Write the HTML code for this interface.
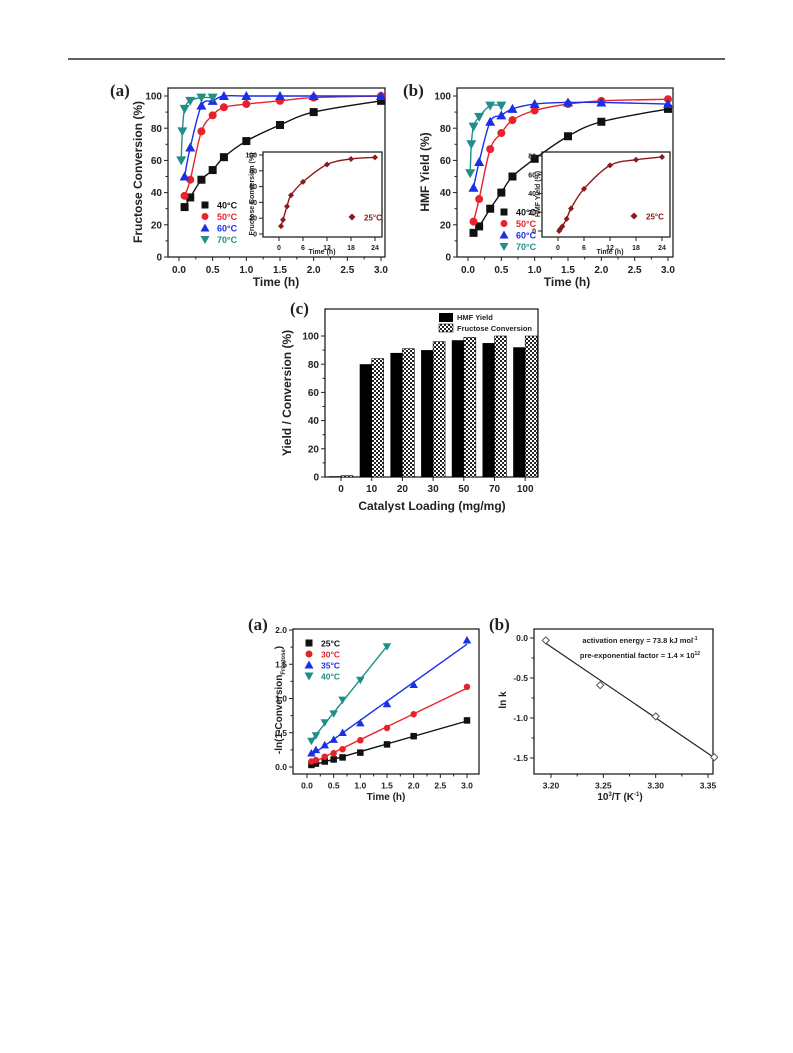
<!DOCTYPE html>
<html><head><meta charset="utf-8"><style>
html,body{margin:0;padding:0;background:#fff}
svg{display:block;font-family:"Liberation Sans",Arial,sans-serif}
</style></head><body>
<svg id="fig" width="793" height="1053" viewBox="0 0 793 1053" xmlns="http://www.w3.org/2000/svg">
<defs>
<pattern id="hatch" width="4" height="4" patternUnits="userSpaceOnUse">
<rect width="4" height="4" fill="#fff"/>
<rect width="2" height="2" fill="#222"/><rect x="2" y="2" width="2" height="2" fill="#222"/>
</pattern>
</defs>
<line x1="68" y1="59" x2="725" y2="59" stroke="#000" stroke-width="1.3"/>
</svg>
<script>
// ---------- data ----------
const tMain=[0.083,0.167,0.333,0.5,0.667,1,1.5,2,3];
const t70=[0.033,0.05,0.083,0.167,0.333,0.5];
const convA40=[31,37,48,54,62,72,82,90,97];
const convA50=[38,48,78,88,93,95,97,99,100];
const convA60=[50,68,94,97,100,100,100,100,100];
const convA70=[60,78,92,97,99,99];
const yieldB40=[15,19,30,40,50,61,75,84,92];
const yieldB50=[22,36,67,77,85,91,95,97,98];
const yieldB60=[43,59,84,88,92,95,96,96,95];
const yieldB70=[52,70,81,87,94,94];
const tInset=[0.5,1,2,3,6,12,18,24];
const insetConv=[10,18,35,49,66,88,95,97];
const insetYield=[2,5,13,24,45,70,76,79];
const loadCats=["0","10","20","30","50","70","100"];
const hmfYield=[0.5,80,88,90,97,95,92];
const fruConv=[1,84,91,96,99,100,100];
const kin25=[0.03,0.05,0.08,0.11,0.14,0.21,0.33,0.45,0.68];
const kin30=[0.08,0.1,0.15,0.2,0.26,0.39,0.57,0.77,1.17];
const kin35=[0.2,0.25,0.32,0.4,0.5,0.64,0.92,1.2,1.85];
const tKin40=[0.083,0.167,0.333,0.5,0.667,1,1.5];
const kin40=[0.38,0.46,0.65,0.78,0.98,1.27,1.76];
const invT=[3.195,3.247,3.30,3.356];
const lnk=[-0.03,-0.59,-0.98,-1.49];

const C={k:'#111',r:'#e8222a',b:'#1a2fe6',g:'#1f8f88',d:'#8b1a1a'};
const svg=document.getElementById('fig');
const NS='http://www.w3.org/2000/svg';
function el(tag,attrs,parent){const e=document.createElementNS(NS,tag);for(const k in attrs)e.setAttribute(k,attrs[k]);(parent||svg).appendChild(e);return e;}
function txt(s,x,y,size,anchor,parent,extra){const e=el('text',Object.assign({x:x,y:y,'font-size':size,'font-weight':'bold','text-anchor':anchor||'middle',fill:'#222'},extra||{}),parent);e.textContent=s;return e;}
function lin(d0,p0,d1,p1){return v=>p0+(v-d0)*(p1-p0)/(d1-d0);}

function axes(name,f,sx,sy,xt,yt,xl,yl,fs,xminor,yminor){
  const g=el('g',{});
  
  
  const fr=el('rect',{x:f.x0,y:f.y0,width:f.x1-f.x0,height:f.y1-f.y0,fill:'none',stroke:'#222','stroke-width':1.3},g);
  
  
  xt.forEach(v=>{const x=sx(v);el('line',{x1:x,y1:f.y1,x2:x,y2:f.y1+4,stroke:'#222'},g);
    const t=txt(xl?xl(v):String(v),x,f.y1+6+fs,fs,'middle',g);});
  (xminor||[]).forEach(v=>{const x=sx(v);el('line',{x1:x,y1:f.y1,x2:x,y2:f.y1+2.5,stroke:'#222'},g);});
  yt.forEach(v=>{const y=sy(v);el('line',{x1:f.x0-4,y1:y,x2:f.x0,y2:y,stroke:'#222'},g);
    const t=txt(yl?yl(v):String(v),f.x0-6,y+fs*0.36,fs,'end',g);});
  (yminor||[]).forEach(v=>{const y=sy(v);el('line',{x1:f.x0-2.5,y1:y,x2:f.x0,y2:y,stroke:'#222'},g);});
  return g;
}
function marker(type,x,y,s,col,g,fill){
  let e;const h=s/2;
  if(type==='sq')e=el('rect',{x:x-h,y:y-h,width:s,height:s,fill:col},g);
  else if(type==='ci')e=el('circle',{cx:x,cy:y,r:h,fill:col},g);
  else if(type==='up')e=el('polygon',{points:`${x},${y-h-1} ${x-h-1},${y+h} ${x+h+1},${y+h}`,fill:col},g);
  else if(type==='dn')e=el('polygon',{points:`${x-h-1},${y-h} ${x+h+1},${y-h} ${x},${y+h+1}`,fill:col},g);
  else if(type==='di')e=el('polygon',{points:`${x},${y-h} ${x+h},${y} ${x},${y+h} ${x-h},${y}`,fill:fill||col,stroke:col,'stroke-width':fill?1:0},g);
  
  
  return e;
}
function smooth(pts){let d=`M${pts[0][0]},${pts[0][1]}`;
  for(let i=0;i<pts.length-1;i++){const p0=pts[i-1]||pts[i],p1=pts[i],p2=pts[i+1],p3=pts[i+2]||p2;
    d+=` C${p1[0]+(p2[0]-p0[0])/6},${p1[1]+(p2[1]-p0[1])/6} ${p2[0]-(p3[0]-p1[0])/6},${p2[1]-(p3[1]-p1[1])/6} ${p2[0]},${p2[1]}`;}return d;}
function series(name,xs,ys,sx,sy,type,col,s,g,fit){
  const sg=el('g',{},g);
  
  
  const pts=xs.map((x,i)=>[sx(x),sy(ys[i])]);
  if(fit==='smooth'){const p=el('path',{d:smooth(pts),fill:'none',stroke:col,'stroke-width':1.4},sg);}
  if(fit==='linear'){const n=xs.length,mx=xs.reduce((a,b)=>a+b)/n,my=ys.reduce((a,b)=>a+b)/n;
    let sxy=0,sxx=0;xs.forEach((x,i)=>{sxy+=(x-mx)*(ys[i]-my);sxx+=(x-mx)*(x-mx);});const m=sxy/sxx,b=my-m*mx;
    const xa=Math.min(...xs),xb=Math.max(...xs);
    const p=el('line',{x1:sx(xa),y1:sy(m*xa+b),x2:sx(xb),y2:sy(m*xb+b),stroke:col,'stroke-width':1.4},sg);}
  pts.forEach(p=>marker(type,p[0],p[1],s,col,sg));
}
function legend(items,x,y,dy,fs,g){items.forEach((it,i)=>{marker(it[0],x,y+i*dy,7,it[2],g);const t=txt(it[1],x+12,y+i*dy+3.5,fs,'start',g,{fill:it[2]});});}
function label(s,x,y,name){const t=txt(s,x,y,17,'start',null,{'font-family':'Liberation Serif, serif',fill:'#222'});}
function ytitle(s,x,y,fs,g){const t=txt(s,x,y,fs,'middle',g,{transform:`rotate(-90 ${x} ${y})`});return t;}
function xtitle(s,x,y,fs,g){const t=txt(s,x,y,fs,'middle',g);return t;}
const f1=v=>v.toFixed(1);
const tx=[0,0.5,1,1.5,2,2.5,3], txm=[0.25,0.75,1.25,1.75,2.25,2.75];

// ---------- panel (a) top ----------
label('(a)',110,96,'panel-a-label');
{const f={x0:168,y0:88,x1:385,y1:257};const sx=lin(0,179,3,381),sy=lin(0,257,100,96);
 const g=axes('panel-a-conversion',f,sx,sy,tx,[0,20,40,60,80,100],f1,null,10,txm,[10,30,50,70,90]);
 ytitle('Fructose Conversion (%)',142,172,12,g);xtitle('Time (h)',276,286,12,g);
 series('series-40c',tMain,convA40,sx,sy,'sq',C.k,8,g,'smooth');
 series('series-50c',tMain,convA50,sx,sy,'ci',C.r,8,g,'smooth');
 series('series-60c',tMain,convA60,sx,sy,'up',C.b,8,g,'smooth');
 series('series-70c',t70,convA70,sx,sy,'dn',C.g,8,g,'smooth');
 legend([['sq','40°C',C.k],['ci','50°C',C.r],['up','60°C',C.b],['dn','70°C',C.g]],205,205,11.5,9,g);
 const fi={x0:263,y0:152,x1:382,y1:237};const ix=lin(0,279,24,375),iy=lin(0,234,100,155);
 const gi=axes('inset-a',fi,ix,iy,[0,6,12,18,24],[0,20,40,60,80,100],null,null,7);
 ytitle('Fructose Conversion (%)',254,194,7,gi);xtitle('Time (h)',322,254,7,gi);
 series('series-25c',tInset,insetConv,ix,iy,'di',C.d,6,gi,'smooth');
 legend([['di','25°C',C.d]],352,217,0,8,gi);
}
// ---------- panel (b) top ----------
label('(b)',403,96,'panel-b-label');
{const f={x0:457,y0:88,x1:673,y1:257};const sx=lin(0,468,3,668),sy=lin(0,257,100,96);
 const g=axes('panel-b-yield',f,sx,sy,tx,[0,20,40,60,80,100],f1,null,10,txm,[10,30,50,70,90]);
 ytitle('HMF Yield (%)',429,172,12,g);xtitle('Time (h)',567,286,12,g);
 series('series-40c',tMain,yieldB40,sx,sy,'sq',C.k,8,g,'smooth');
 series('series-50c',tMain,yieldB50,sx,sy,'ci',C.r,8,g,'smooth');
 series('series-60c',tMain,yieldB60,sx,sy,'up',C.b,8,g,'smooth');
 series('series-70c',t70,yieldB70,sx,sy,'dn',C.g,8,g,'smooth');
 legend([['sq','40°C',C.k],['ci','50°C',C.r],['up','60°C',C.b],['dn','70°C',C.g]],504,212,11.5,9,g);
 const fi={x0:542,y0:152,x1:670,y1:237};const ix=lin(0,558,24,662),iy=lin(0,231,80,156);
 const gi=axes('inset-b',fi,ix,iy,[0,6,12,18,24],[0,20,40,60,80],null,null,7);
 ytitle('HMF Yield (%)',540,194,7,gi);xtitle('Time (h)',610,254,7,gi);
 series('series-25c',[0.25].concat(tInset),[0].concat(insetYield),ix,iy,'di',C.d,6,gi,'smooth');
 legend([['di','25°C',C.d]],634,216,0,8,gi);
}
// ---------- panel (c) ----------
label('(c)',290,314,'panel-c-label');
{const f={x0:325,y0:309,x1:538,y1:477};const sy=lin(0,477,100,336);const xc=i=>341+i*30.7;
 const g=axes('panel-c-loading',f,v=>0,sy,[],[0,20,40,60,80,100],null,null,10,null,[10,30,50,70,90]);
 loadCats.forEach((c,i)=>{const x=xc(i);el('line',{x1:x,y1:477,x2:x,y2:481,stroke:'#222'},g);
   const t=txt(c,x,492,10,'middle',g);
   const b1=el('rect',{x:x-12,y:sy(hmfYield[i]),width:12,height:477-sy(hmfYield[i]),fill:'#000'},g);
   
   const b2=el('rect',{x:x,y:sy(fruConv[i]),width:12,height:477-sy(fruConv[i]),fill:'url(#hatch)',stroke:'#111','stroke-width':0.6},g);
   });
 ytitle('Yield / Conversion (%)',291,393,12,g);xtitle('Catalyst Loading (mg/mg)',432,510,12,g);
 const l1=el('rect',{x:439,y:313,width:14,height:9,fill:'#000'},g);
 const l2=el('rect',{x:439,y:324,width:14,height:8,fill:'url(#hatch)',stroke:'#111','stroke-width':0.6},g);
 let t=txt('HMF Yield',457,320,7.5,'start',g);
 t=txt('Fructose Conversion',457,331,7.5,'start',g);
}
// ---------- bottom (a) ----------
label('(a)',248,630,'panel-kinetics-a-label');
{const f={x0:293,y0:629,x1:479,y1:774};const sx=lin(0,307,3,467),sy=lin(0,767,2,630);
 const g=axes('panel-kinetics-a',f,sx,sy,tx,[0,0.5,1,1.5,2],f1,f1,8.5,txm,[0.25,0.75,1.25,1.75]);
 ytitle('-ln(1-Conversion',282,700,10,g).innerHTML='-ln(1-Conversion<tspan font-size="6" dy="3">Fructose</tspan><tspan dy="-3">)</tspan>';
 xtitle('Time (h)',386,800,10,g);
 series('series-25c',tMain,kin25,sx,sy,'sq',C.k,6.5,g,'linear');
 series('series-30c',tMain,kin30,sx,sy,'ci',C.r,6.5,g,'linear');
 series('series-35c',tMain,kin35,sx,sy,'up',C.b,6.5,g,'linear');
 series('series-40c',tKin40,kin40,sx,sy,'dn',C.g,6.5,g,'linear');
 legend([['sq','25°C',C.k],['ci','30°C',C.r],['up','35°C',C.b],['dn','40°C',C.g]],309,643,11,8.5,g);
}
// ---------- bottom (b) ----------
label('(b)',489,630,'panel-kinetics-b-label');
{const f={x0:534,y0:629,x1:713,y1:774};const sx=lin(3.2,551,3.35,708),sy=lin(0,638,-1.5,758);
 const g=axes('panel-arrhenius-b',f,sx,sy,[3.2,3.25,3.3,3.35],[0,-0.5,-1,-1.5],v=>v.toFixed(2),f1,8.5,[3.225,3.275,3.325],[-0.25,-0.75,-1.25]);
 ytitle('ln k',506,700,10,g);
 xtitle('',620,800,10,g).innerHTML='10<tspan font-size="6" dy="-4">3</tspan><tspan dy="4">/T (K</tspan><tspan font-size="6" dy="-4">-1</tspan><tspan dy="4">)</tspan>';
 const sg=el('g',{},g);
 const n=invT.length,mx=invT.reduce((a,b)=>a+b)/n,my=lnk.reduce((a,b)=>a+b)/n;let a=0,b=0;invT.forEach((x,i)=>{a+=(x-mx)*(lnk[i]-my);b+=(x-mx)**2;});const m=a/b,c=my-m*mx;
 const fl=el('line',{x1:sx(invT[0]),y1:sy(m*invT[0]+c),x2:sx(invT[n-1]),y2:sy(m*invT[n-1]+c),stroke:'#222','stroke-width':1.2},sg);
 invT.forEach((x,i)=>marker('di',sx(x),sy(lnk[i]),7,'#555',sg,'#fff'));
 let t=txt('',640,643,7.5,'middle',g);t.innerHTML='activation energy = 73.8 kJ mol<tspan font-size="5" dy="-3">-1</tspan>';
 t=txt('',640,658,7.5,'middle',g);t.innerHTML='pre-exponential factor = 1.4 × 10<tspan font-size="5" dy="-3">12</tspan>';
}
</script>
</body></html>
